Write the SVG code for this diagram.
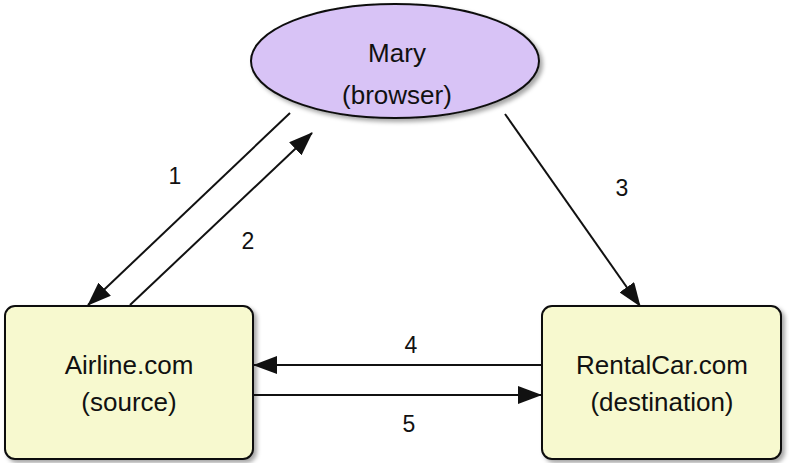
<svg xmlns="http://www.w3.org/2000/svg" width="789" height="463" viewBox="0 0 789 463">
<style>
text{font-family:"Liberation Sans",Arial,sans-serif;fill:#111;text-anchor:middle}
.lbl{font-size:26px}
.num{font-size:23px}
.box{fill:#f7f9cf;stroke:#111;stroke-width:2}
.edge{stroke:#111;stroke-width:2;fill:none}
</style>
<defs>
<marker id="ah" viewBox="0 0 24 18" refX="23" refY="9" markerWidth="24" markerHeight="18" markerUnits="userSpaceOnUse" orient="auto">
<path d="M0,0 L24,9 L0,18 Z" fill="#111"/>
</marker>
<filter id="sh" x="-10%" y="-10%" width="130%" height="130%">
<feDropShadow dx="3" dy="3" stdDeviation="2" flood-color="#000" flood-opacity="0.35"/>
</filter>
</defs>
<g id="mary">
<ellipse cx="395" cy="61" rx="144" ry="57" fill="#d8c3f6" stroke="#111" stroke-width="2" filter="url(#sh)"/>
<text class="lbl" x="397" y="62">Mary</text>
<text class="lbl" x="397" y="104">(browser)</text>
</g>
<g id="airline">
<rect class="box" x="5" y="306" width="248" height="153" rx="10" filter="url(#sh)"/>
<text class="lbl" x="129" y="374">Airline.com</text>
<text class="lbl" x="129" y="411">(source)</text>
</g>
<g id="rentalcar">
<rect class="box" x="542" y="306" width="239" height="153" rx="10" filter="url(#sh)"/>
<text class="lbl" x="662" y="374">RentalCar.com</text>
<text class="lbl" x="662" y="411">(destination)</text>
</g>
<g id="connectors">
<line class="edge" x1="290" y1="113" x2="88" y2="305" marker-end="url(#ah)"/>
<line class="edge" x1="130" y1="305" x2="312" y2="133" marker-end="url(#ah)"/>
<line class="edge" x1="505" y1="114" x2="640" y2="306" marker-end="url(#ah)"/>
<line class="edge" x1="542" y1="365" x2="254" y2="365" marker-end="url(#ah)"/>
<line class="edge" x1="254" y1="395" x2="541" y2="395" marker-end="url(#ah)"/>
<text class="num" x="175" y="184">1</text>
<text class="num" x="248" y="249">2</text>
<text class="num" x="622" y="196">3</text>
<text class="num" x="411" y="353">4</text>
<text class="num" x="409" y="432">5</text>
</g>
</svg>
